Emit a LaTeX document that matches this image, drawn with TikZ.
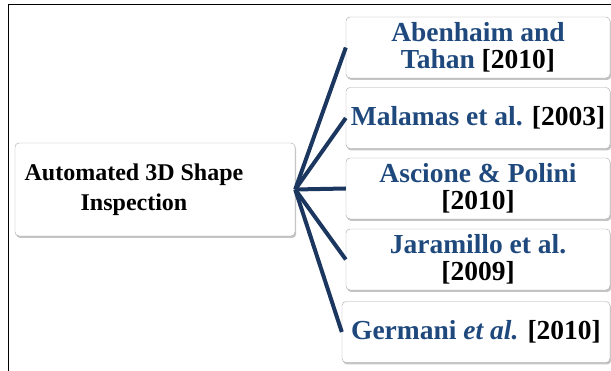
\documentclass[tikz,border=0pt]{standalone}
\usepackage{fontspec}
\setmainfont{Liberation Serif}
\usepackage{xcolor}
\usetikzlibrary{shadows}
\definecolor{navy}{RGB}{28,55,95}
\definecolor{refblue}{RGB}{31,73,125}

\begin{document}
\begin{tikzpicture}[x=1pt, y=-1pt,
      box/.style={draw=black!35, fill=white, rounded corners=4pt, align=center,
        inner sep=0pt, drop shadow={shadow xshift=1.2pt, shadow yshift=-2pt, fill=black!45}},
      ref/.style={box, minimum width=264pt, minimum height=61pt,
        font=\bfseries\fontsize{27.5}{27}\selectfont},
      link/.style={draw=navy, line width=4pt}]
    \useasboundingbox (0,0) rectangle (611,371);
    % outer frame
    \draw[line width=1pt] (8,371) |- (611,5);
    % topic (text sits left of centre)
    \node[box, minimum width=280pt, minimum height=93pt,
      font=\bfseries\fontsize{24}{29.5}\selectfont] (main) at (155,189.5)
      {Automated 3D Shape\hspace*{42pt}\\Inspection\hspace*{42pt}};
    % references
    \node[ref] (ab) at (478,47.5)
      {\textcolor{refblue}{Abenhaim and}\\\textcolor{refblue}{Tahan} [2010]};
    \node[ref] (ma) at (478,118)
      {\textcolor{refblue}{Malamas et al.} [2003]};
    \node[ref] (as) at (478,188.5)
      {\textcolor{refblue}{Ascione \& Polini}\\{[2010]}};
    \node[ref] (ja) at (478,259.5)
      {\textcolor{refblue}{Jaramillo et al.}\\{[2009]}};
    \node[ref, minimum width=268pt] (ge) at (476,332)
      {\textcolor{refblue}{Germani \emph{et al.}} [2010]};
    % connectors
    \foreach \n in {ab,ma,as,ja,ge}
      \draw[link] (main.east) -- (\n.west);
\end{tikzpicture}
\end{document}
